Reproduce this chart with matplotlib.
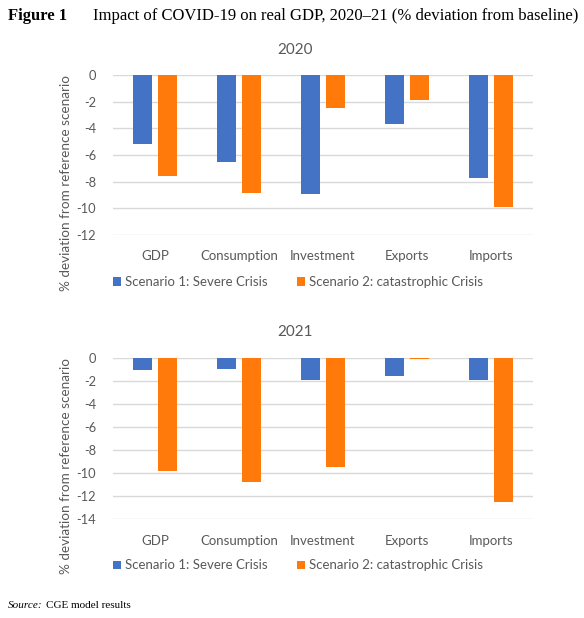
import matplotlib
matplotlib.use("Agg")
import matplotlib.pyplot as plt
import numpy as np

categories = ["GDP", "Consumption", "Investment", "Exports", "Imports"]
series_names = ["Scenario 1: Severe Crisis", "Scenario 2: catastrophic Crisis"]
s1_2020 = [-5.2, -6.55, -8.95, -3.7, -7.75]
s2_2020 = [-7.6, -8.85, -2.45, -1.9, -9.9]
s1_2021 = [-1.05, -0.95, -1.95, -1.6, -1.95]
s2_2021 = [-9.8, -10.75, -9.45, -0.1, -12.5]
yticks_2020 = [0, -2, -4, -6, -8, -10, -12]
yticks_2021 = [0, -2, -4, -6, -8, -10, -12, -14]

BLUE = "#4472C4"
ORANGE = "#FF7A0A"
TXT = "#595959"
GRID = "#D9D9D9"
SANS = ["Lato", "DejaVu Sans"]
SERIF = ["Liberation Serif", "DejaVu Serif"]

W, H = 584, 618
fig = plt.figure(figsize=(W / 100, H / 100), dpi=100)

def panel(top_px, bottom_px, title, a, b, yticks, title_y_px, leg_y):
    left_px, right_px = 113, 533
    ax = fig.add_axes([left_px / W, 1 - bottom_px / H, (right_px - left_px) / W, (bottom_px - top_px) / H])
    x = np.arange(len(categories))
    w = 0.222
    ax.bar(x - 0.145, a, w, color=BLUE, label=series_names[0], zorder=3)
    ax.bar(x + 0.145, b, w, color=ORANGE, label=series_names[1], zorder=3)
    ax.set_xlim(-0.5, len(categories) - 0.5)
    ax.set_ylim(min(yticks), 0)
    ax.set_yticks(yticks)
    ax.set_yticklabels([str(t) for t in yticks], fontfamily=SANS, fontsize=9.3, color=TXT)
    ax.set_xticks(x)
    ax.set_xticklabels(categories, fontfamily=SANS, fontsize=9.5, color=TXT)
    ax.tick_params(axis="both", length=0)
    ax.tick_params(axis="y", pad=12)
    ax.tick_params(axis="x", pad=11)
    for s in ax.spines.values():
        s.set_visible(False)
    ax.yaxis.grid(True, color=GRID, linewidth=1, zorder=0)
    ax.set_axisbelow(True)
    ax.set_ylabel("% deviation from reference scenario", fontfamily=SANS, fontsize=9.7, color=TXT)
    ax.yaxis.set_label_coords(-0.098, 0.328)
    fig.text(295 / W, 1 - title_y_px / H, title, fontfamily=SANS, fontsize=11, color=TXT, ha="center", va="center")
    ax.legend(loc="center", bbox_to_anchor=(0.44, leg_y), ncol=2, frameon=False,
              prop={"family": SANS, "size": 9.5}, handlelength=0.6, handleheight=0.6,
              handletextpad=0.3, columnspacing=2.2, labelcolor=TXT)
    return ax

ax1 = panel(75, 235, "2020", s1_2020, s2_2020, yticks_2020, 50, -0.294)
ax2 = panel(357.7, 519.3, "2021", s1_2021, s2_2021, yticks_2021, 332, -0.285)

fig.text(8 / W, 1 - 16 / H, "Figure 1", fontfamily=SERIF, fontsize=12, fontweight="bold", va="center")
fig.text(93 / W, 1 - 16 / H, "Impact of COVID-19 on real GDP, 2020\u201321 (% deviation from baseline)",
         fontfamily=SERIF, fontsize=12, va="center")
fig.text(8 / W, 1 - 606 / H, "Source:", fontfamily=SERIF, fontsize=8, style="italic", va="center")
fig.text(46 / W, 1 - 606 / H, "CGE model results", fontfamily=SERIF, fontsize=8, va="center")

fig.savefig("out.png", dpi=100)
